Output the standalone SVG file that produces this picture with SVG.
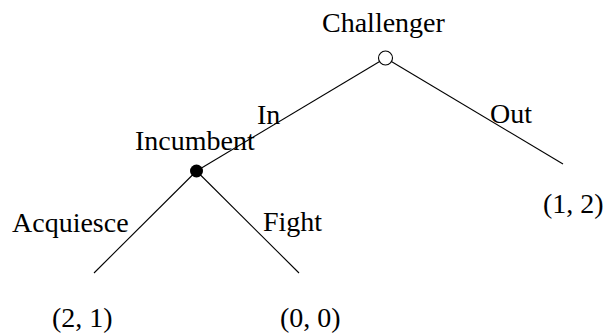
<svg xmlns="http://www.w3.org/2000/svg" width="604" height="333" viewBox="0 0 604 333">
  <style>
    .lbl { font-family: "Liberation Serif", "Times New Roman", serif; font-size: 28px; fill: #000; }
    .edge { stroke: #000; stroke-width: 1.1; fill: none; }
  </style>
  <rect width="604" height="333" fill="#fff"/>

  <!-- branches of the game tree -->
  <g id="connectors">
    <line class="edge" x1="385.5" y1="58" x2="196.5" y2="171"/>
    <line class="edge" x1="385.5" y1="58" x2="563" y2="164"/>
    <line class="edge" x1="196.5" y1="171" x2="94" y2="273"/>
    <line class="edge" x1="196.5" y1="171" x2="299" y2="273"/>
  </g>

  <!-- action labels -->
  <g id="actions">
    <text class="lbl" x="257" y="124">In</text>
    <text class="lbl" x="490" y="123">Out</text>
    <text class="lbl" x="12" y="232">Acquiesce</text>
    <text class="lbl" x="263" y="231">Fight</text>
  </g>

  <!-- decision nodes -->
  <g id="challenger">
    <circle cx="385.5" cy="58" r="7" fill="#fff" stroke="#000" stroke-width="1.1"/>
    <text class="lbl" x="322" y="32">Challenger</text>
  </g>
  <g id="incumbent">
    <circle cx="196.5" cy="171" r="6.5" fill="#000"/>
    <text class="lbl" x="135" y="150">Incumbent</text>
  </g>

  <!-- payoffs -->
  <g id="payoff-out">
    <text class="lbl" x="543" y="213">(1, 2)</text>
  </g>
  <g id="payoff-acquiesce">
    <text class="lbl" x="52" y="327">(2, 1)</text>
  </g>
  <g id="payoff-fight">
    <text class="lbl" x="280" y="327">(0, 0)</text>
  </g>
</svg>
